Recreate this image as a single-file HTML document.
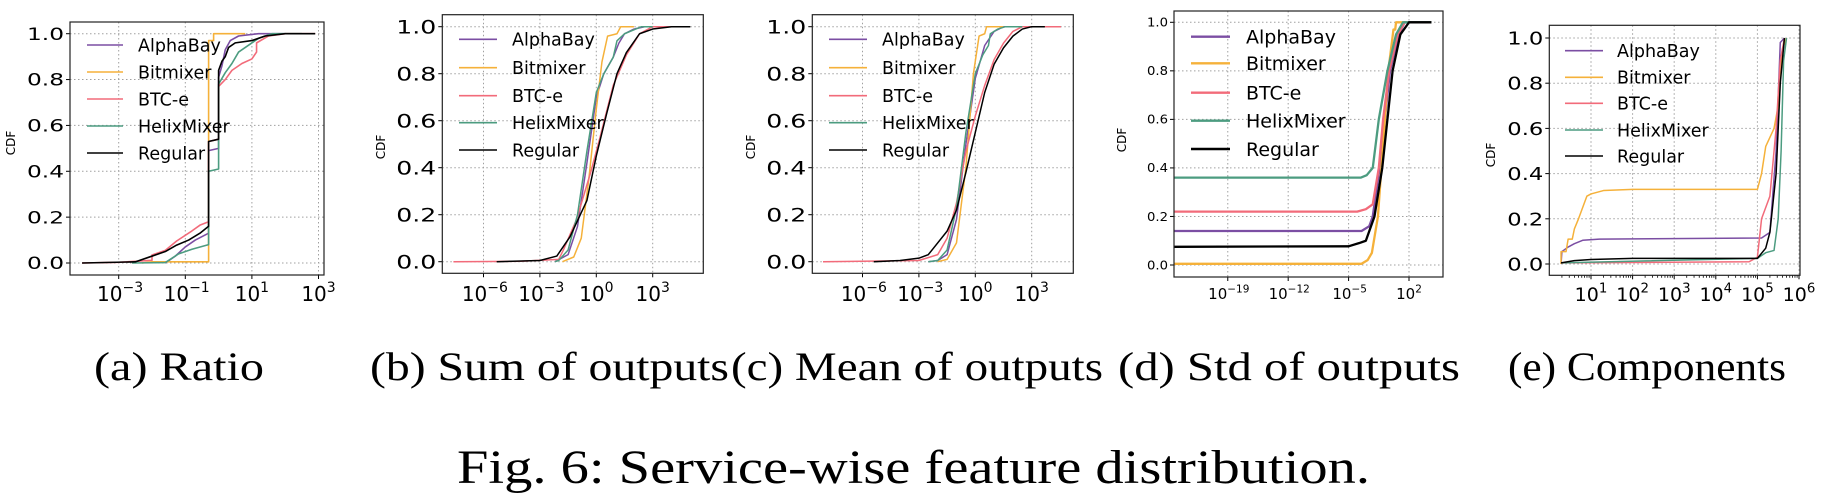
<!DOCTYPE html>
<html><head><meta charset="utf-8"><style>
html,body{margin:0;padding:0;background:#fff;}
svg{display:block;}
text{font-family:"DejaVu Sans","Liberation Sans",sans-serif;fill:#000;}
.cap{font-family:"Liberation Serif",serif;}
</style></head><body>
<svg id="fig" width="1824" height="499" viewBox="0 0 1824 499" xmlns="http://www.w3.org/2000/svg"></svg>
<script>
// ---- data: [log10(x), CDF] pairs ----
const seriesNames = ["AlphaBay","Bitmixer","BTC-e","HelixMixer","Regular"];
const seriesColors = ["#7b4ea3","#f5b13a","#f26b7a","#4c9c80","#000000"];

const ratioAlpha = [[-1.6,0],[-1.3,0.03],[-1.0,0.07],[-0.7,0.1],[-0.3,0.13],[-0.3,0.49],[0,0.5],[0,0.81],[0.1,0.86],[0.2,0.93],[0.35,0.97],[0.6,0.99],[1.2,1.0],[2.0,1.0]];
const ratioBit = [[-2.3,0],[-2.0,0.005],[-0.3,0.005],[-0.3,0.97],[-0.15,0.97],[-0.15,1.0],[0.8,1.0]];
const ratioBtc = [[-4.1,0],[-3,0.003],[-2.2,0.01],[-2.0,0.012],[-2.0,0.035],[-1.6,0.055],[-1.26,0.096],[-0.8,0.14],[-0.56,0.165],[-0.3,0.18],[-0.3,0.53],[0,0.54],[0,0.77],[0.2,0.8],[0.4,0.84],[0.7,0.87],[1.0,0.89],[1.14,0.92],[1.14,0.96],[1.5,0.99],[2.0,1.0],[2.9,1.0]];
const ratioHelix = [[-2.6,0],[-1.6,0.002],[-1.2,0.04],[-0.8,0.06],[-0.3,0.08],[-0.3,0.4],[0,0.41],[0,0.78],[0.2,0.83],[0.4,0.87],[0.6,0.92],[0.9,0.95],[1.2,0.98],[1.6,1.0],[2.5,1.0]];
const ratioReg = [[-4.1,0],[-2.5,0.005],[-2.06,0.027],[-1.6,0.05],[-1.26,0.078],[-0.9,0.1],[-0.56,0.13],[-0.3,0.16],[-0.3,0.53],[0,0.54],[0,0.84],[0.1,0.88],[0.2,0.9],[0.3,0.94],[0.5,0.96],[1.0,0.97],[1.4,0.99],[2.0,1.0],[2.9,1.0]];

const sumAlpha = [[-2.2,0],[-1.5,0.03],[-1.0,0.15],[-0.5,0.42],[0,0.7],[0.4,0.8],[0.9,0.87],[1.2,0.93],[1.5,0.97],[2.0,0.99],[2.6,1.0],[3.0,1.0]];
const sumBit = [[-1.8,0],[-1.2,0.02],[-0.8,0.1],[-0.4,0.35],[0,0.65],[0.3,0.85],[0.6,0.96],[1.1,0.97],[1.3,1.0],[2.0,1.0]];
const sumBtc = [[-7.6,0],[-4,0.002],[-2,0.01],[-1.75,0.05],[-1.05,0.18],[-0.3,0.38],[0.2,0.53],[0.9,0.75],[1.6,0.88],[2.3,0.97],[3.0,1.0],[4.5,1.0]];
const sumHelix = [[-2.2,0],[-2,0.005],[-1.5,0.05],[-1.0,0.2],[-0.5,0.47],[0,0.72],[0.4,0.8],[0.9,0.87],[1.1,0.94],[1.5,0.97],[2.4,1.0],[3.0,1.0]];
const sumReg = [[-5.3,0],[-3,0.005],[-2.1,0.024],[-1.4,0.106],[-0.5,0.26],[0,0.45],[0.55,0.63],[1.1,0.8],[1.6,0.89],[2.3,0.97],[3.0,0.99],[4.0,1.0],[5.0,1.0]];

const meanAlpha = [[-2.5,0],[-2,0.005],[-1.5,0.03],[-1,0.18],[-0.5,0.5],[0,0.78],[0.5,0.92],[1,0.98],[1.5,1.0],[2.5,1.0]];
const meanBit = [[-2,0],[-1.5,0.01],[-1,0.08],[-0.5,0.4],[-0.1,0.8],[0.2,0.96],[0.5,0.97],[0.6,1.0],[1.5,1.0]];
const meanBtc = [[-8.1,0],[-3,0.005],[-2,0.03],[-1.5,0.1],[-1,0.25],[-0.5,0.47],[0,0.62],[0.5,0.75],[1,0.86],[1.5,0.93],[2,0.98],[2.5,1.0],[4.56,1.0]];
const meanHelix = [[-2.5,0],[-2,0.005],[-1.5,0.05],[-1,0.23],[-0.5,0.55],[0,0.8],[0.4,0.88],[0.7,0.92],[0.8,0.97],[1.2,0.99],[1.6,1.0],[2.5,1.0]];
const meanReg = [[-5.4,0],[-4,0.005],[-3,0.015],[-2.5,0.03],[-2.23,0.057],[-1.5,0.13],[-1,0.22],[-0.5,0.38],[0,0.55],[0.5,0.72],[1,0.84],[1.5,0.91],[2,0.96],[2.5,0.99],[3,1.0],[3.7,1.0]];

const stdAlpha = [[-25.2,0.14],[-3.5,0.14],[-2.6,0.16],[-2.2,0.2],[-1.4,0.4],[-0.8,0.6],[-0.2,0.8],[0.8,0.95],[1.5,1.0],[4.6,1.0]];
const stdBit = [[-25.2,0.005],[-3.5,0.005],[-2.8,0.02],[-2.3,0.05],[-1.6,0.2],[-1.0,0.5],[-0.4,0.8],[0.2,0.97],[0.4,0.97],[0.5,1.0],[4.6,1.0]];
const stdBtc = [[-25.2,0.22],[-4.0,0.22],[-3.0,0.23],[-2.2,0.25],[-1.5,0.4],[-1.0,0.6],[-0.3,0.8],[0.7,0.95],[1.5,1.0],[4.6,1.0]];
const stdHelix = [[-25.2,0.36],[-3.6,0.36],[-2.9,0.37],[-2.2,0.4],[-1.5,0.6],[-0.5,0.8],[0.5,0.95],[1.3,1.0],[4.6,1.0]];
const stdReg = [[-25.2,0.075],[-5.0,0.077],[-3.8,0.09],[-3.0,0.1],[-2.0,0.2],[-1.1,0.4],[-0.5,0.6],[0.1,0.8],[1.0,0.95],[2.0,1.0],[4.6,1.0]];

const compAlpha = [[0.28,0],[0.3,0.055],[0.45,0.075],[0.6,0.09],[0.8,0.105],[1.2,0.11],[5.1,0.115],[5.3,0.14],[5.45,0.5],[5.55,0.98],[5.65,1.0]];
const compBit = [[0.28,0],[0.28,0.055],[0.4,0.055],[0.45,0.11],[0.55,0.11],[0.6,0.155],[0.7,0.2],[0.8,0.25],[0.9,0.3],[1.0,0.31],[1.3,0.325],[2,0.33],[5.0,0.33],[5.1,0.4],[5.2,0.52],[5.4,0.6],[5.5,0.7],[5.6,0.95],[5.7,1.0]];
const compBtc = [[0.28,0.005],[4.8,0.01],[5.0,0.03],[5.1,0.2],[5.3,0.3],[5.45,0.6],[5.55,0.9],[5.65,1.0]];
const compHelix = [[0.28,0.005],[5.0,0.025],[5.2,0.05],[5.4,0.06],[5.5,0.2],[5.57,0.5],[5.63,0.9],[5.7,1.0]];
const compReg = [[0.28,0.005],[0.6,0.015],[1,0.02],[2,0.025],[5.0,0.025],[5.2,0.07],[5.3,0.14],[5.45,0.4],[5.55,0.8],[5.65,1.0]];

const yTicks = [0,0.2,0.4,0.6,0.8,1.0];
const yTickLabels = ["0.0","0.2","0.4","0.6","0.8","1.0"];
const ratioXTicks = [-3,-1,1,3];
const sumXTicks = [-6,-3,0,3];
const meanXTicks = [-6,-3,0,3];
const stdXTicks = [-19,-12,-5,2];
const compXTicks = [1,2,3,4,5,6];
const captions = ["(a) Ratio","(b) Sum of outputs","(c) Mean of outputs","(d) Std of outputs","(e) Components"];

// ---- layout config ----
const NS="http://www.w3.org/2000/svg";
const svg=document.getElementById('fig');
function mk(tag,attrs,parent){const e=document.createElementNS(NS,tag);for(const k in attrs)e.setAttribute(k,attrs[k]);(parent||svg).appendChild(e);return e;}

const panels=[
 {key:'ratio',series:[ratioAlpha,ratioBit,ratioBtc,ratioHelix,ratioReg],xt:ratioXTicks,box:[70,22,324,275],x0:-1,px0:185.3,ppd:33.3,y0:263,y1:33.7,lw:1.6,
  tf:17,tlw:37,xf:20,xbase:301,leg:{x1:87,x2:123,tx:138,ys:[45,72,99,126,153],f:17.5,lw:1.6},cdf:[11,143],cap:[94,264]},
 {key:'sum',series:[sumAlpha,sumBit,sumBtc,sumHelix,sumReg],xt:sumXTicks,box:[442.3,14.7,703.3,273.3],x0:0,px0:596.3,ppd:18.8,y0:261.7,y1:26.7,lw:1.5,
  tf:19,tlw:40,xf:20,xbase:301,leg:{x1:459,x2:497,tx:512,ys:[39.3,67.7,95.7,122.7,150],f:17.5,lw:1.6},cdf:[381,147],cap:[370,729]},
 {key:'mean',series:[meanAlpha,meanBit,meanBtc,meanHelix,meanReg],xt:meanXTicks,box:[812.3,14.7,1073.3,273.3],x0:0,px0:975.3,ppd:18.8,y0:261.7,y1:26.7,lw:1.5,
  tf:19,tlw:40,xf:20,xbase:301,leg:{x1:829,x2:867,tx:882,ys:[39.3,67.7,95.7,122.7,150],f:17.5,lw:1.6},cdf:[751,147],cap:[731,1103]},
 {key:'std',series:[stdAlpha,stdBit,stdBtc,stdHelix,stdReg],xt:stdXTicks,box:[1174,11,1443,277],x0:2,px0:1409,ppd:8.63,y0:265,y1:22.3,lw:2.3,
  tf:12,tlw:21,xf:15,xbase:299,leg:{x1:1191,x2:1230,tx:1246,ys:[36.7,63.3,92.7,120.7,149],f:19,lw:2.4},cdf:[1122,140],cap:[1118,1460]},
 {key:'comp',series:[compAlpha,compBit,compBtc,compHelix,compReg],xt:compXTicks,box:[1549.3,25.3,1800,275.3],x0:1,px0:1591,ppd:41.6,y0:264,y1:38,lw:1.5,
  tf:18,tlw:36,xf:19,xbase:301,minor:true,leg:{x1:1565,x2:1603,tx:1617,ys:[50.7,77.3,103.3,130,156],f:17.5,lw:1.6},cdf:[1491,155],cap:[1508,1786]}
];

panels.forEach((p,pi)=>{
  const g=mk('g',{});
  
  
  const [L,T,R,B]=p.box;
  const X=lx=>p.px0+p.ppd*(lx-p.x0);
  const Y=v=>p.y0+(p.y1-p.y0)*v;
  // grid
  yTicks.forEach((v,i)=>{
    const l=mk('line',{x1:L,x2:R,y1:Y(v),y2:Y(v),stroke:'#a0a0a0','stroke-width':1,'stroke-dasharray':'1.5,2.5'},g);
     
    const tk=mk('line',{x1:L-4,x2:L,y1:Y(v),y2:Y(v),stroke:'#000','stroke-width':1},g);
     
    const t=mk('text',{x:L-6,y:Y(v)+p.tf*0.36,'text-anchor':'end','font-size':p.tf,textLength:p.tlw,lengthAdjust:'spacingAndGlyphs'},g);
    t.textContent=yTickLabels[i];
     
  });
  p.xt.forEach(e=>{
    const x=X(e);
    const l=mk('line',{x1:x,x2:x,y1:T,y2:B,stroke:'#a0a0a0','stroke-width':1,'stroke-dasharray':'1.5,2.5'},g);
     
    const tk=mk('line',{x1:x,x2:x,y1:B,y2:B+4,stroke:'#000','stroke-width':1},g);
     
    const lab=(e<0?'\u2212':'')+Math.abs(e);
    const baseW=p.xf*1.27, supF=p.xf*0.7, supW=supF*0.64*lab.length;
    const t=mk('text',{x:x-(baseW+supW)/2,y:p.xbase,'font-size':p.xf},g);
     
    const a=mk('tspan',{},t); a.textContent='10';
    const b=mk('tspan',{'font-size':supF,dy:-p.xf*0.45},t); b.textContent=lab;
  });
  if(p.minor){
    for(let d=0;d<6;d++)for(let m=2;m<10;m++){
      const lx=d+Math.log10(m); if(lx<0.28) continue;
      const x=X(lx); if(x>R) continue;
      const tk=mk('line',{x1:x,x2:x,y1:B,y2:B+2.5,stroke:'#000','stroke-width':0.8},g);
       
    }
  }
  // series
  const clip=mk('clipPath',{id:'clip'+pi},g); mk('rect',{x:L,y:T,width:R-L,height:B-T},clip);
  p.series.forEach((s,si)=>{
    const d=s.map((pt,i)=>(i?'L':'M')+X(pt[0]).toFixed(2)+','+Y(pt[1]).toFixed(2)).join('');
    const path=mk('path',{d:d,fill:'none',stroke:seriesColors[si],'stroke-width':p.lw,'stroke-linejoin':'round','clip-path':'url(#clip'+pi+')'},g);
    
    
  });
  // frame
  const fr=mk('rect',{x:L,y:T,width:R-L,height:B-T,fill:'none',stroke:'#222','stroke-width':1.2},g);
   
  // legend
  const lg=mk('g',{},g);
   
  seriesNames.forEach((n,si)=>{
    const y=p.leg.ys[si];
    const e=mk('g',{},lg);
     
    mk('line',{x1:p.leg.x1,x2:p.leg.x2,y1:y,y2:y,stroke:seriesColors[si],'stroke-width':p.leg.lw},e);
    const t=mk('text',{x:p.leg.tx,y:y+p.leg.f*0.36,'font-size':p.leg.f},e); t.textContent=n;
  });
  // CDF label
  const c=mk('text',{x:p.cdf[0],y:p.cdf[1],'font-size':12,'text-anchor':'middle',transform:'rotate(-90 '+p.cdf[0]+' '+p.cdf[1]+')',dy:4},g);
  c.textContent='CDF';
   
  // caption
  const cp=mk('text',{x:p.cap[0],y:380,'font-size':40,textLength:p.cap[1]-p.cap[0],lengthAdjust:'spacingAndGlyphs',class:'cap'},g);
  cp.textContent=captions[pi];
   
});
const ft=mk('text',{x:457,y:483,'font-size':48,textLength:913,lengthAdjust:'spacingAndGlyphs',class:'cap'});
ft.textContent='Fig. 6: Service-wise feature distribution.';


</script>
</body></html>
